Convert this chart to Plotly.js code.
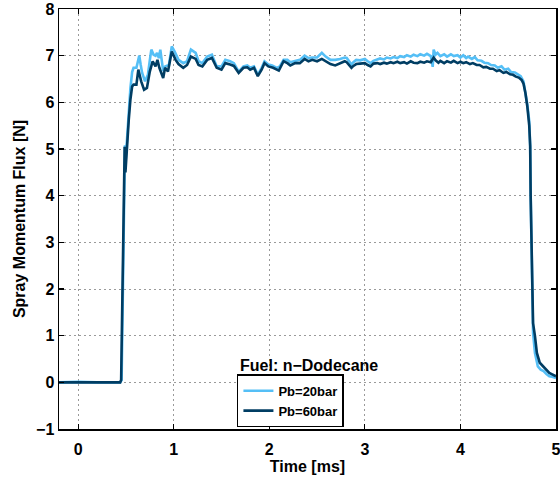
<!DOCTYPE html>
<html>
<head>
<meta charset="utf-8">
<script src="https://cdn.plot.ly/plotly-3.0.1.min.js"></script>
<style>html,body{margin:0;padding:0;background:#fff;}#chart{width:560px;height:477px;}</style>
</head>
<body>
<div id="chart"></div>
<script>
// Pb = 20 bar (light blue)
const t20 = [-0.2, 0.0, 0.2, 0.44, 0.455, 0.47, 0.483, 0.49, 0.497, 0.51, 0.53, 0.547, 0.565, 0.58, 0.61, 0.625, 0.64, 0.655, 0.67, 0.70, 0.73, 0.75, 0.766, 0.79, 0.81, 0.826, 0.845, 0.86, 0.89, 0.91, 0.95, 0.98, 1.01, 1.05, 1.10, 1.14, 1.18, 1.23, 1.26, 1.30, 1.35, 1.40, 1.45, 1.50, 1.54, 1.59, 1.63, 1.68, 1.73, 1.77, 1.80, 1.84, 1.88, 1.92, 1.95, 1.99, 2.03, 2.08, 2.11, 2.15, 2.19, 2.22, 2.27, 2.32, 2.37, 2.41, 2.45, 2.50, 2.55, 2.59, 2.64, 2.69, 2.74, 2.79, 2.81, 2.84, 2.86, 2.88, 2.91, 2.95, 3.00, 3.03, 3.06, 3.09, 3.13, 3.16, 3.20, 3.23, 3.27, 3.30, 3.34, 3.37, 3.41, 3.44, 3.48, 3.51, 3.55, 3.58, 3.62, 3.65, 3.69, 3.71, 3.72, 3.74, 3.76, 3.79, 3.83, 3.86, 3.90, 3.93, 3.97, 4.00, 4.03, 4.06, 4.08, 4.12, 4.15, 4.18, 4.22, 4.25, 4.29, 4.32, 4.36, 4.39, 4.43, 4.46, 4.50, 4.53, 4.57, 4.60, 4.63, 4.66, 4.68, 4.70, 4.72, 4.73, 4.735, 4.745, 4.756, 4.76, 4.78, 4.81, 4.84, 4.87, 4.90, 4.93, 4.96, 5.0];
const f20 = [0.0, 0.01, 0.0, 0.0, 0.05, 2.6, 4.9, 5.08, 4.75, 5.2, 5.85, 6.3, 6.65, 6.74, 6.74, 6.85, 7.0, 6.8, 6.63, 6.45, 6.59, 6.9, 7.13, 7.02, 7.0, 7.06, 6.95, 7.13, 6.67, 6.77, 6.8, 7.2, 7.09, 6.91, 6.84, 6.88, 7.13, 7.06, 6.88, 6.84, 6.98, 7.02, 6.77, 6.77, 6.91, 6.88, 6.84, 6.66, 6.77, 6.79, 6.74, 6.77, 6.59, 6.74, 6.88, 6.81, 6.79, 6.74, 6.77, 6.91, 6.91, 6.86, 6.89, 6.91, 7.0, 6.95, 6.96, 6.96, 7.06, 6.98, 6.91, 6.91, 6.93, 6.96, 6.95, 6.88, 6.81, 6.86, 6.91, 6.90, 6.93, 6.88, 6.84, 6.89, 6.91, 6.94, 6.92, 6.96, 6.94, 6.97, 6.95, 6.99, 6.97, 7.01, 6.98, 7.02, 6.99, 7.03, 7.00, 7.04, 6.99, 6.76, 7.13, 7.02, 7.06, 6.99, 7.03, 6.98, 7.03, 6.99, 7.01, 6.96, 7.01, 6.95, 6.98, 6.93, 6.97, 6.90, 6.89, 6.85, 6.84, 6.80, 6.79, 6.74, 6.77, 6.70, 6.72, 6.65, 6.64, 6.60, 6.56, 6.45, 6.24, 5.95, 5.6, 5.06, 4.0, 2.91, 1.84, 1.06, 0.63, 0.34, 0.27, 0.24, 0.18, 0.13, 0.12, 0.09];

// Pb = 60 bar (dark blue)
const t60 = [-0.2, 0.0, 0.2, 0.44, 0.45, 0.465, 0.48, 0.487, 0.495, 0.51, 0.53, 0.547, 0.565, 0.58, 0.61, 0.63, 0.66, 0.69, 0.72, 0.75, 0.78, 0.81, 0.83, 0.85, 0.89, 0.91, 0.94, 0.98, 1.02, 1.05, 1.10, 1.14, 1.18, 1.23, 1.26, 1.30, 1.35, 1.40, 1.45, 1.50, 1.54, 1.59, 1.63, 1.68, 1.73, 1.77, 1.80, 1.84, 1.88, 1.92, 1.95, 1.99, 2.04, 2.10, 2.15, 2.19, 2.22, 2.27, 2.32, 2.37, 2.41, 2.45, 2.50, 2.55, 2.59, 2.64, 2.69, 2.74, 2.79, 2.81, 2.84, 2.86, 2.88, 2.91, 2.95, 3.00, 3.03, 3.06, 3.09, 3.13, 3.16, 3.20, 3.23, 3.27, 3.30, 3.34, 3.37, 3.41, 3.44, 3.48, 3.51, 3.55, 3.58, 3.62, 3.65, 3.69, 3.72, 3.74, 3.77, 3.79, 3.83, 3.86, 3.90, 3.93, 3.97, 4.00, 4.03, 4.06, 4.10, 4.13, 4.17, 4.20, 4.24, 4.27, 4.31, 4.34, 4.38, 4.41, 4.45, 4.48, 4.52, 4.55, 4.58, 4.61, 4.64, 4.66, 4.68, 4.70, 4.72, 4.73, 4.735, 4.745, 4.756, 4.76, 4.78, 4.80, 4.83, 4.86, 4.88, 4.91, 4.93, 4.96, 5.0];
const f60 = [0.0, 0.0, 0.01, 0.0, 0.05, 2.6, 4.9, 5.05, 4.5, 5.06, 5.63, 6.06, 6.34, 6.38, 6.38, 6.70, 6.45, 6.27, 6.31, 6.66, 6.88, 6.77, 6.91, 6.74, 6.52, 6.74, 6.66, 7.09, 6.91, 6.82, 6.74, 6.80, 6.98, 6.93, 6.80, 6.77, 6.91, 6.95, 6.74, 6.70, 6.84, 6.81, 6.78, 6.63, 6.74, 6.75, 6.70, 6.74, 6.56, 6.70, 6.84, 6.77, 6.74, 6.68, 6.88, 6.84, 6.79, 6.84, 6.84, 6.93, 6.88, 6.91, 6.88, 6.93, 6.88, 6.82, 6.79, 6.84, 6.88, 6.86, 6.80, 6.74, 6.78, 6.82, 6.83, 6.84, 6.80, 6.77, 6.83, 6.84, 6.82, 6.85, 6.83, 6.86, 6.84, 6.87, 6.84, 6.86, 6.83, 6.88, 6.85, 6.84, 6.87, 6.85, 6.88, 6.86, 6.96, 6.90, 6.85, 6.89, 6.84, 6.88, 6.85, 6.89, 6.84, 6.87, 6.84, 6.86, 6.82, 6.84, 6.80, 6.80, 6.75, 6.76, 6.72, 6.72, 6.67, 6.69, 6.63, 6.65, 6.60, 6.59, 6.55, 6.53, 6.48, 6.40, 6.20, 5.91, 5.5, 5.06, 3.99, 2.91, 1.84, 1.27, 0.99, 0.63, 0.42, 0.36, 0.31, 0.25, 0.20, 0.17, 0.13];

const seriesNames = ['Pb=20bar', 'Pb=60bar'];
const xTicks = [0, 1, 2, 3, 4, 5];
const yTicks = [-1, 0, 1, 2, 3, 4, 5, 6, 7, 8];
const noteText = 'Fuel: n\u2212Dodecane';

const FONT = {family: 'Liberation Sans, Arial, sans-serif', size: 16, color: '#000', weight: 'bold'};

const traces = [
  {x: t20, y: f20, name: seriesNames[0], type: 'scatter', mode: 'lines',
   line: {color: '#55bff6', width: 2.6}},
  {x: t60, y: f60, name: seriesNames[1], type: 'scatter', mode: 'lines',
   line: {color: '#003d63', width: 2.6}}
];

const axisCommon = {
  showline: true, linecolor: '#000', linewidth: 1.5, mirror: 'ticks',
  ticks: 'inside', ticklen: 5, tickwidth: 1.2, tickcolor: '#000',
  showgrid: true, gridcolor: '#9a9a9a', gridwidth: 1, griddash: '1.5px,3.5px',
  zeroline: false, tickfont: FONT, automargin: false, ticklabeloverflow: 'allow'
};

const layout = {
  width: 560, height: 477,
  margin: {l: 59, r: 4, t: 9, b: 48},
  paper_bgcolor: '#fff', plot_bgcolor: '#fff',
  font: FONT,
  showlegend: true,
  xaxis: Object.assign({}, axisCommon, {
    range: [-0.2, 5], tickvals: xTicks, ticklabelstandoff: 5,
    title: {text: 'Time [ms]', font: FONT, standoff: 0}
  }),
  yaxis: Object.assign({}, axisCommon, {
    range: [-1, 8], tickvals: yTicks,
    title: {text: 'Spray Momentum Flux [N]', font: FONT, standoff: 6}
  }),
  legend: {
    x: 0.358, y: 0.004, xanchor: 'left', yanchor: 'bottom',
    bgcolor: '#fff', bordercolor: '#000', borderwidth: 1.5,
    font: {family: 'Liberation Sans, Arial, sans-serif', size: 13, color: '#000', weight: 'bold'},
    tracegroupgap: 0, itemwidth: 30
  },
  annotations: [{
    x: 2.42, y: 0.36, xref: 'x', yref: 'y', text: noteText,
    showarrow: false, font: FONT, xanchor: 'center', yanchor: 'middle'
  }]
};

Plotly.newPlot('chart', traces, layout, {staticPlot: true, displayModeBar: false});
</script>
</body>
</html>
